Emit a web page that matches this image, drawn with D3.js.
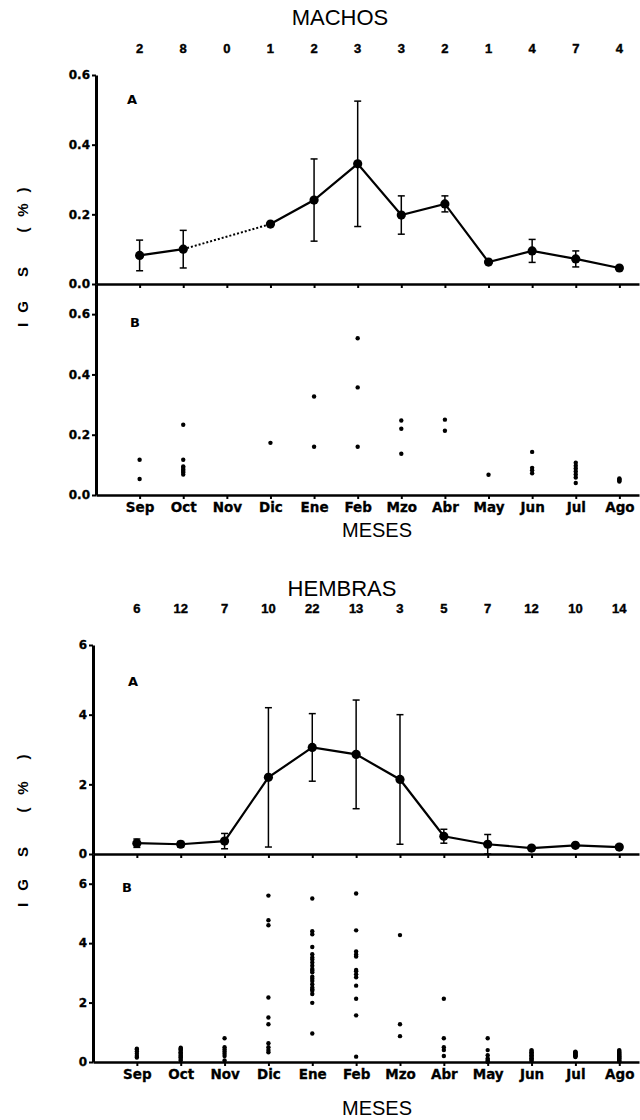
<!DOCTYPE html>
<html>
<head>
<meta charset="utf-8">
<script src="https://d3js.org/d3.v7.min.js"></script>
<style>
  body { margin: 0; background: #fff; }
  svg text { fill: #000; }
</style>
</head>
<body>
<script>
const months = ["Sep", "Oct", "Nov", "Dic", "Ene", "Feb", "Mzo", "Abr", "May", "Jun", "Jul", "Ago"];

// MACHOS
const nMachos = [2, 8, 0, 1, 2, 3, 3, 2, 1, 4, 7, 4];
const meanMachos = [0.082, 0.100, null, 0.172, 0.241, 0.345, 0.198, 0.230, 0.063, 0.095, 0.072, 0.046];
const errMachos = [0.044, 0.054, null, 0, 0.118, 0.180, 0.055, 0.023, 0, 0.033, 0.023, 0];
const indivMachos = [
  [0.117, 0.053],
  [0.233, 0.117, 0.095, 0.090, 0.085, 0.080, 0.075, 0.068],
  [],
  [0.173],
  [0.327, 0.160],
  [0.520, 0.357, 0.160],
  [0.247, 0.220, 0.137],
  [0.250, 0.213],
  [0.067],
  [0.143, 0.090, 0.082, 0.072],
  [0.107, 0.097, 0.088, 0.078, 0.068, 0.058, 0.040],
  [0.055, 0.052, 0.048, 0.045]
];

// HEMBRAS
const nHembras = [6, 12, 7, 10, 22, 13, 3, 5, 7, 12, 10, 14];
const meanHembras = [0.31, 0.28, 0.37, 2.20, 3.06, 2.86, 2.14, 0.51, 0.28, 0.17, 0.25, 0.20];
const errHembras = [0.12, 0.08, 0.22, 2.00, 0.97, 1.56, 1.86, 0.20, 0.28, 0.06, 0.04, 0.06];
const indivHembras = [
  [0.45, 0.42, 0.35, 0.28, 0.20, 0.15],
  [0.48, 0.45, 0.42, 0.38, 0.33, 0.30, 0.27, 0.22, 0.18, 0.15, 0.10, 0.05],
  [0.80, 0.50, 0.42, 0.35, 0.28, 0.20, 0.05],
  [5.60, 4.77, 4.60, 2.17, 1.50, 1.27, 0.63, 0.50, 0.40, 0.33],
  [5.50, 4.40, 4.30, 3.87, 3.63, 3.52, 3.45, 3.35, 3.24, 3.13, 3.08, 3.02, 2.87, 2.80, 2.73, 2.62, 2.51, 2.45, 2.40, 2.29, 1.99, 0.96],
  [5.67, 4.43, 3.72, 3.62, 3.55, 3.05, 2.95, 2.85, 2.57, 2.13, 1.57, 0.18, 3.10],
  [4.27, 1.27, 0.87],
  [2.13, 0.80, 0.50, 0.40, 0.20],
  [0.80, 0.40, 0.23, 0.12, 0.07, 0.03, 0.00],
  [0.40, 0.37, 0.33, 0.30, 0.27, 0.23, 0.20, 0.17, 0.13, 0.10, 0.07, 0.03],
  [0.35, 0.33, 0.31, 0.29, 0.27, 0.25, 0.23, 0.21, 0.19, 0.17],
  [0.40, 0.37, 0.34, 0.31, 0.28, 0.25, 0.22, 0.19, 0.16, 0.13, 0.10, 0.07, 0.04, 0.02]
];

const yTitleChars = ["I", "G", "S", "(", "%", ")"];

const svg = d3.select("body").append("svg")
  .attr("width", 640)
  .attr("height", 1120);

const tickFont = "'DejaVu Sans', sans-serif";
const plainFont = "'Liberation Sans', Arial, sans-serif";

function drawBlock(cfg) {
  const g = svg.append("g");

  const x = d3.scaleLinear().domain([-1, 11.45]).range([cfg.left, 639]);
  const yA = d3.scaleLinear().domain(cfg.domainA).range([cfg.baseA, cfg.topA]);
  const yB = d3.scaleLinear().domain(cfg.domainB).range([cfg.baseB, cfg.baseA]);

  // title
  g.append("text")
    .attr("x", cfg.titleX).attr("y", cfg.titleY)
    .attr("text-anchor", "middle")
    .attr("font-family", plainFont)
    .attr("font-size", 22)
    .text(cfg.title);

  // sample sizes
  g.selectAll(".n").data(cfg.n).enter().append("text")
    .attr("x", (d, i) => x(i))
    .attr("y", cfg.nY)
    .attr("text-anchor", "middle")
    .attr("font-family", plainFont)
    .attr("font-weight", "bold")
    .attr("font-size", 13)
    .attr("stroke", "#000").attr("stroke-width", 0.4)
    .text(d => d);

  // y axes
  const axA = g.append("g")
    .attr("transform", `translate(${cfg.left},0)`)
    .call(d3.axisLeft(yA).tickValues(cfg.ticks).tickFormat(cfg.fmt).tickSize(4).tickSizeOuter(0).tickPadding(2));
  const axB = g.append("g")
    .attr("transform", `translate(${cfg.left},0)`)
    .call(d3.axisLeft(yB).tickValues(cfg.ticks).tickFormat(cfg.fmt).tickSize(4).tickSizeOuter(0).tickPadding(2));

  [axA, axB].forEach(ax => {
    ax.select(".domain").attr("stroke-width", 3);
    ax.selectAll(".tick line").attr("stroke-width", 2);
    ax.selectAll(".tick text")
      .attr("font-family", tickFont)
      .attr("font-weight", "bold")
      .attr("font-size", 12)
      .attr("stroke", "#000").attr("stroke-width", 0.3);
  });

  // x axes (A bottom and B bottom)
  const xA = g.append("g")
    .attr("transform", `translate(0,${cfg.baseA})`)
    .call(d3.axisBottom(x).tickValues(d3.range(12)).tickFormat("").tickSize(4).tickSizeOuter(0));
  const xB = g.append("g")
    .attr("transform", `translate(0,${cfg.baseB})`)
    .call(d3.axisBottom(x).tickValues(d3.range(12)).tickFormat(i => months[i]).tickSize(4).tickSizeOuter(0).tickPadding(3));
  [xA, xB].forEach(ax => {
    ax.select(".domain").attr("stroke-width", 2.5);
    ax.selectAll(".tick line").attr("stroke-width", 2);
  });
  xB.selectAll(".tick text")
    .attr("font-family", tickFont)
    .attr("font-weight", "bold")
    .attr("font-size", 13.5)
    .attr("stroke", "#000").attr("stroke-width", 0.3);

  // MESES
  g.append("text")
    .attr("x", 377).attr("y", cfg.mesesY)
    .attr("text-anchor", "middle")
    .attr("font-family", plainFont)
    .attr("font-size", 20)
    .text("MESES");

  // panel letters
  [["A", cfg.labA], ["B", cfg.labB]].forEach(([t, p]) => {
    g.append("text").attr("x", p[0]).attr("y", p[1])
      .attr("font-family", tickFont).attr("font-weight", "bold").attr("font-size", 13)
      .attr("text-anchor", "middle").text(t);
  });

  // y title, letters spread along the axis
  const yt = g.append("g").attr("transform", `translate(28,${cfg.yTitleY}) rotate(-90)`);
  yt.selectAll("text").data(yTitleChars).enter().append("text")
    .attr("x", (d, i) => cfg.yTitleOff[i])
    .attr("text-anchor", "middle")
    .attr("font-family", plainFont)
    .attr("font-weight", "bold")
    .attr("font-size", 15)
    .text(d => d);

  // A: mean line
  const pts = cfg.mean.map((m, i) => ({ i, m, e: cfg.err[i] }));
  const line = d3.line().defined(d => d.m != null).x(d => x(d.i)).y(d => yA(d.m));
  g.append("path").datum(pts)
    .attr("d", line)
    .attr("fill", "none").attr("stroke", "#000").attr("stroke-width", 2.2);

  // dotted bridge over missing months
  const valid = pts.filter(d => d.m != null);
  for (let k = 1; k < valid.length; k++) {
    if (valid[k].i - valid[k - 1].i > 1) {
      g.append("path").datum([valid[k - 1], valid[k]])
        .attr("d", d3.line().x(d => x(d.i)).y(d => yA(d.m)))
        .attr("fill", "none").attr("stroke", "#000")
        .attr("stroke-width", 2).attr("stroke-dasharray", "2,2");
    }
  }

  // error bars
  const eb = g.selectAll(".eb").data(valid.filter(d => d.e > 0)).enter().append("g");
  eb.append("line")
    .attr("x1", d => x(d.i)).attr("x2", d => x(d.i))
    .attr("y1", d => yA(d.m - d.e)).attr("y2", d => yA(d.m + d.e))
    .attr("stroke", "#000").attr("stroke-width", 1.5);
  [-1, 1].forEach(s => {
    eb.append("line")
      .attr("x1", d => x(d.i) - 3.5).attr("x2", d => x(d.i) + 3.5)
      .attr("y1", d => yA(d.m + s * d.e)).attr("y2", d => yA(d.m + s * d.e))
      .attr("stroke", "#000").attr("stroke-width", 1.5);
  });

  g.selectAll(".mk").data(valid).enter().append("circle")
    .attr("cx", d => x(d.i)).attr("cy", d => yA(d.m))
    .attr("r", 4.6).attr("fill", "#000");

  // B: individual values
  const indiv = [];
  cfg.indiv.forEach((arr, i) => arr.forEach(v => indiv.push({ i, v })));
  g.selectAll(".dot").data(indiv).enter().append("circle")
    .attr("cx", d => x(d.i)).attr("cy", d => yB(d.v))
    .attr("r", 2.2).attr("fill", "#000");
}

drawBlock({
  title: "MACHOS", titleX: 340, titleY: 25,
  n: nMachos, nY: 53,
  left: 96,
  domainA: [0, 0.6], topA: 75, baseA: 284,
  domainB: [0, 0.7], baseB: 495,
  ticks: [0, 0.2, 0.4, 0.6], fmt: d3.format(".1f"),
  mean: meanMachos, err: errMachos, indiv: indivMachos,
  labA: [132, 104], labB: [135, 327],
  mesesY: 537, yTitleY: 258, yTitleOff: [-67, -49, -14, 28, 48, 68]
});

drawBlock({
  title: "HEMBRAS", titleX: 342, titleY: 596,
  n: nHembras, nY: 613,
  left: 93,
  domainA: [0, 6], topA: 645, baseA: 854,
  domainB: [0, 7], baseB: 1062,
  ticks: [0, 2, 4, 6], fmt: d3.format("d"),
  mean: meanHembras, err: errHembras, indiv: indivHembras,
  labA: [133, 686], labB: [127, 892],
  mesesY: 1115, yTitleY: 833, yTitleOff: [-72, -52, -19, 23, 45, 76]
});
</script>
</body>
</html>
